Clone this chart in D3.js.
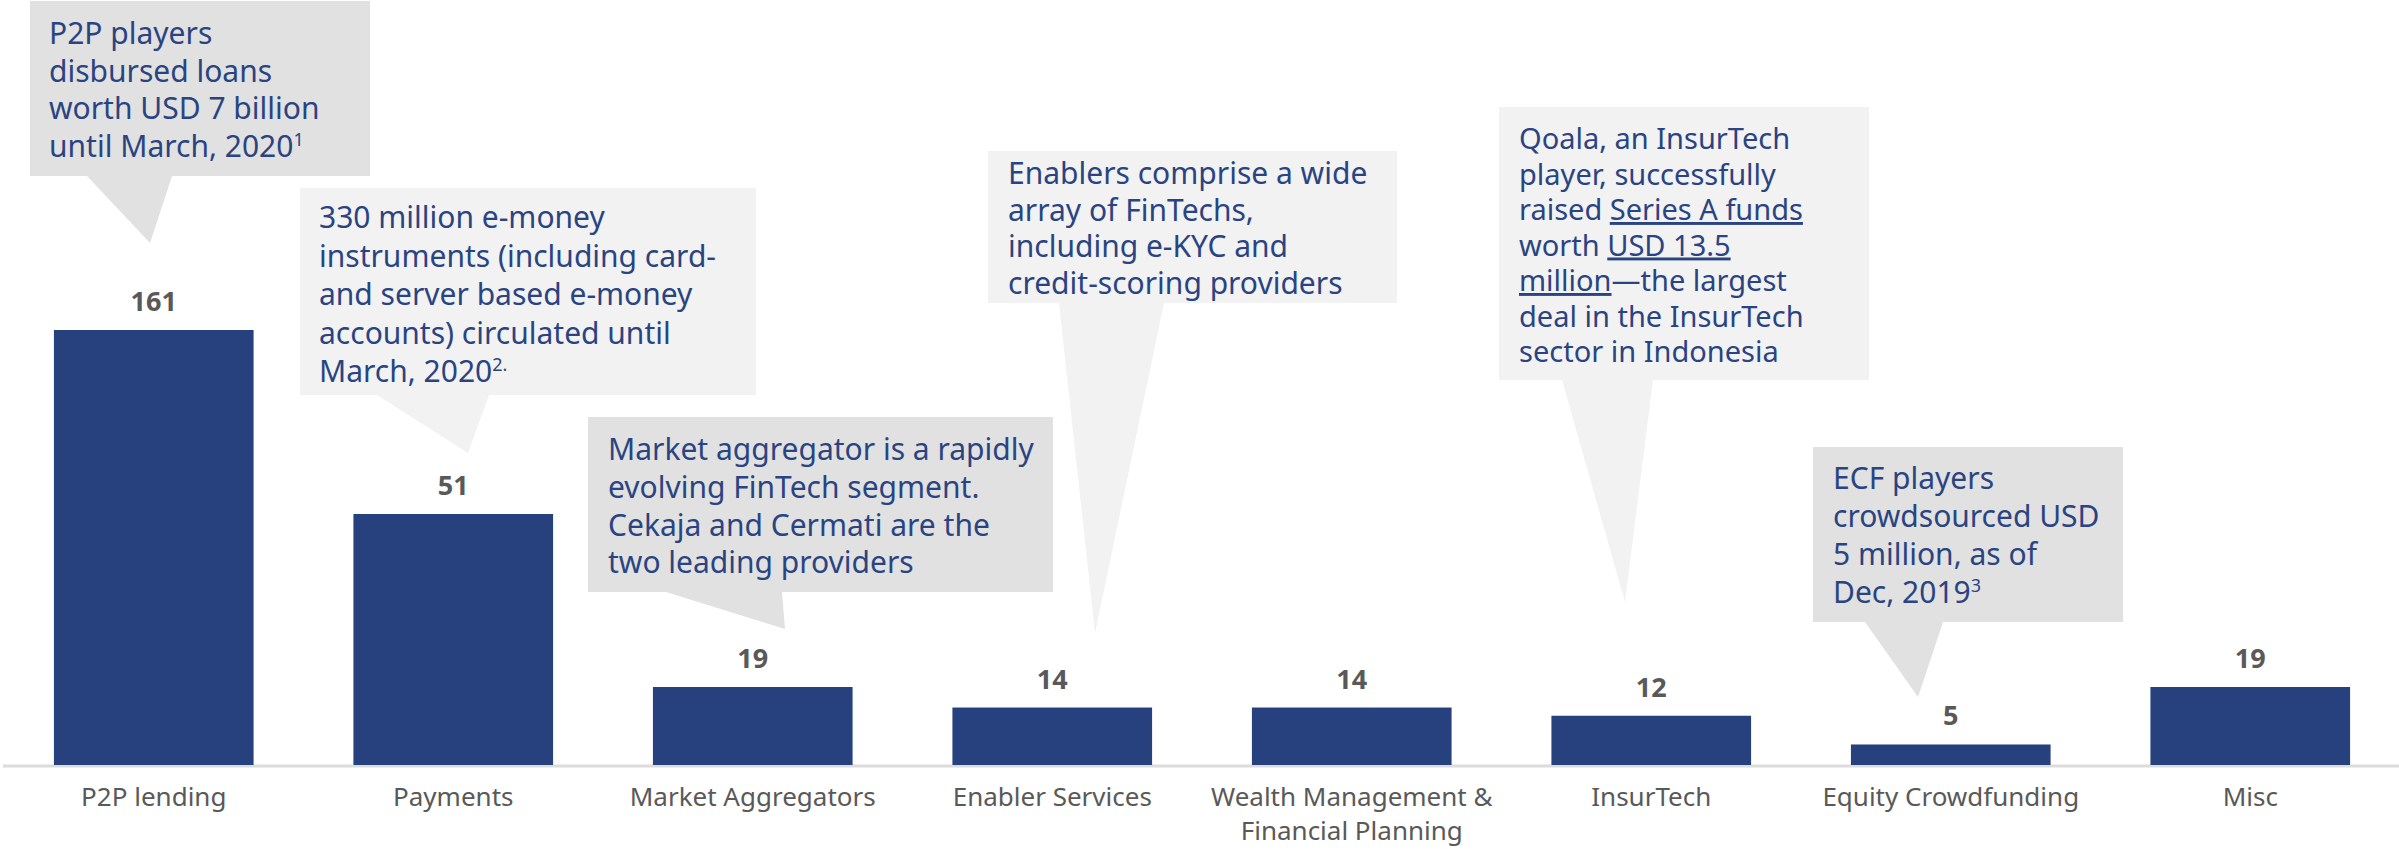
<!DOCTYPE html>
<html>
<head>
<meta charset="utf-8">
<script src="https://cdn.jsdelivr.net/npm/d3@7"></script>
<style>
  body { margin: 0; background: #fff; }
  svg { display: block; }
</style>
</head>
<body>
<div class="chart"></div>
<script>
const width = 2399;
const height = 850;

// chart data
const categories = ["P2P lending", "Payments", "Market Aggregators", "Enabler Services",
    "Wealth Management & Financial Planning", "InsurTech", "Equity Crowdfunding", "Misc"];
const categoryLines = [["P2P lending"], ["Payments"], ["Market Aggregators"], ["Enabler Services"],
    ["Wealth Management &", "Financial Planning"], ["InsurTech"], ["Equity Crowdfunding"], ["Misc"]];
const players = [161, 51, 19, 14, 14, 12, 5, 19];

// callout texts; segments with u:true are underlined, s:true are superscript
const noteText = [
    [[{t: "P2P players"}], [{t: "disbursed loans"}], [{t: "worth USD 7 billion"}], [{t: "until March, 2020"}, {t: "1", s: true}]],
    [[{t: "330 million e-money"}], [{t: "instruments (including card-"}], [{t: "and server based e-money"}],
        [{t: "accounts) circulated until"}], [{t: "March, 2020"}, {t: "2.", s: true}]],
    [[{t: "Market aggregator is a rapidly"}], [{t: "evolving FinTech segment."}], [{t: "Cekaja and Cermati are the"}], [{t: "two leading providers"}]],
    [[{t: "Enablers comprise a wide"}], [{t: "array of FinTechs,"}], [{t: "including e-KYC and"}], [{t: "credit-scoring providers"}]],
    [[{t: "Qoala, an InsurTech"}], [{t: "player, successfully"}], [{t: "raised "}, {t: "Series A funds", u: true}],
        [{t: "worth "}, {t: "USD 13.5", u: true}], [{t: "million", u: true}, {t: "\u2014the largest"}],
        [{t: "deal in the InsurTech"}], [{t: "sector in Indonesia"}]],
    [[{t: "ECF players"}], [{t: "crowdsourced USD"}], [{t: "5 million, as of"}], [{t: "Dec, 2019"}, {t: "3", s: true}]]
];

// callout layout: box, text start, line height, font size, tail base (x1,x2) and tip
const noteBox = [
    {x: 30, y: 1, w: 340, h: 175, tx: 49, ty: 44, lh: 37.5, fs: 30, b1: 87, b2: 172, tipX: 150, tipY: 243, fill: "#e1e1e1"},
    {x: 300, y: 188, w: 456, h: 207, tx: 319, ty: 228, lh: 38.5, fs: 30, b1: 377, b2: 489, tipX: 468, tipY: 453, fill: "#f2f2f2"},
    {x: 588, y: 417, w: 465, h: 175, tx: 608, ty: 460, lh: 37.8, fs: 30, b1: 666, b2: 782, tipX: 785, tipY: 629, fill: "#e1e1e1"},
    {x: 988, y: 151, w: 409, h: 152, tx: 1008, ty: 184, lh: 36.5, fs: 30, b1: 1059, b2: 1164, tipX: 1095, tipY: 633, fill: "#f2f2f2"},
    {x: 1499, y: 107, w: 370, h: 273, tx: 1519, ty: 149, lh: 35.5, fs: 29, b1: 1562, b2: 1653, tipX: 1625, tipY: 602, fill: "#f2f2f2"},
    {x: 1813, y: 447, w: 310, h: 175, tx: 1833, ty: 489, lh: 38, fs: 30, b1: 1865, b2: 1943, tipX: 1918, tipY: 697, fill: "#e1e1e1"}
];

const BAR = "#27417f";
const NOTE_TEXT = "#2a4482";
const GREY = "#595959";
const FONT = "'Noto Sans', sans-serif";
const baseY = 765;

const svg = d3.select(".chart").append("svg").attr("width", width).attr("height", height);

const x = d3.scaleBand().domain(categories).range([4, 2400]).paddingInner(1 / 3).paddingOuter(1 / 6);
// the original bars are not drawn to one linear scale, so a piecewise scale is used
const y = d3.scaleLinear().domain([0, 19, 51, 161]).range([baseY, 687, 514, 330]);

// callouts (behind the bars)
const notes = svg.append("g");
noteBox.forEach((b, i) => {
    let g = notes.append("g");
    g.append("path")
        .attr("d", `M${b.x},${b.y}H${b.x + b.w}V${b.y + b.h}H${b.b2}L${b.tipX},${b.tipY}L${b.b1},${b.y + b.h}H${b.x}Z`)
        .attr("fill", b.fill);
    noteText[i].forEach((line, j) => {
        let cx = b.tx;
        line.forEach(seg => {
            // each segment is its own text, placed after the previous one
            let t = g.append("text")
                .attr("x", cx)
                .attr("y", b.ty + j * b.lh - (seg.s ? 11 : 0))
                .attr("fill", NOTE_TEXT)
                .style("font-family", FONT)
                .style("font-size", (seg.s ? 18 : b.fs) + "px")
                .style("white-space", "pre")
                .text(seg.t);
            if (seg.u) t.attr("text-decoration", "underline");
            cx += t.node().getComputedTextLength();
        });
    });
});

// baseline
svg.append("line")
    .attr("x1", 3).attr("x2", width)
    .attr("y1", baseY + 1).attr("y2", baseY + 1)
    .attr("stroke", "#dcdcdc").attr("stroke-width", 3);

// bars
svg.append("g").selectAll("rect").data(players).enter().append("rect")
    .attr("x", (d, i) => x(categories[i]))
    .attr("y", d => y(d))
    .attr("width", x.bandwidth())
    .attr("height", d => y(0) - y(d))
    .attr("fill", BAR);

// value labels
svg.append("g").selectAll("text").data(players).enter().append("text")
    .attr("x", (d, i) => x(categories[i]) + x.bandwidth() / 2)
    .attr("y", d => y(d) - 19)
    .attr("text-anchor", "middle")
    .attr("fill", GREY)
    .style("font-family", FONT)
    .style("font-size", "27px")
    .style("font-weight", "bold")
    .text(d => d);

// category axis
const axis = svg.append("g")
    .attr("transform", `translate(0,${baseY})`)
    .call(d3.axisBottom(x).tickSize(0).tickFormat(""));
axis.select(".domain").remove();
axis.selectAll(".tick").each(function (d, i) {
    let tick = d3.select(this);
    categoryLines[i].forEach((l, j) => {
        tick.append("text")
            .attr("x", 0).attr("y", 41 + j * 34)
            .attr("text-anchor", "middle")
            .attr("fill", GREY)
            .style("font-family", FONT)
            .style("font-size", "26px")
            .text(l);
    });
});
</script>
</body>
</html>
